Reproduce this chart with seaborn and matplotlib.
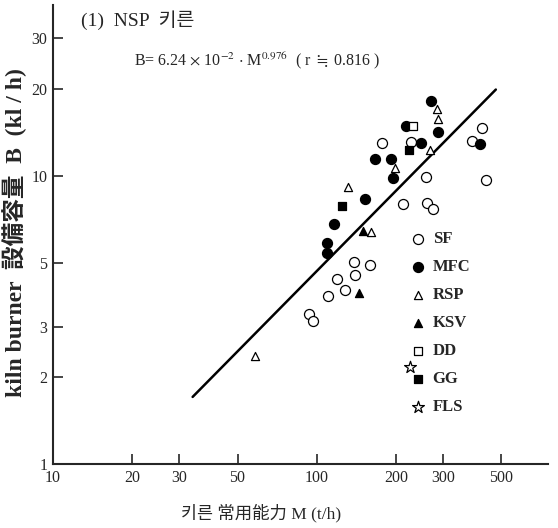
import matplotlib
matplotlib.use("Agg")
import matplotlib.pyplot as plt
import seaborn as sns
import pandas as pd

# ---- data ----
sf_M = [177, 228, 422, 386, 259, 435, 212, 261, 276, 138.5, 159, 119, 139, 128, 110, 93.3, 96.8]
sf_B = [13.0, 13.05, 14.6, 13.2, 9.9, 9.7, 7.97, 8.06, 7.65, 5.02, 4.92, 4.38, 4.52, 4.0, 3.82, 3.32, 3.14]
mfc_M = [270, 217, 287, 247, 414, 166, 190, 194, 152, 116.5, 109.6, 108.8]
mfc_B = [18.1, 14.9, 14.2, 13.0, 12.9, 11.46, 11.46, 9.84, 8.32, 6.81, 5.85, 5.39]
rsp_M = [284, 288, 268, 197.5, 131, 160, 58.4]
rsp_B = [17.1, 15.7, 12.3, 10.6, 9.14, 6.36, 2.38]
ksv_M = [149, 144]
ksv_B = [6.43, 3.91]
dd_M = [232]
dd_B = [14.9]
gg_M = [224, 124]
gg_B = [12.24, 7.88]
fls_M = [225]
fls_B = [2.18]

fit_M = [33.8, 476]
fit_B = [1.71, 19.9]

x_ticks = [10, 20, 30, 50, 100, 200, 300, 500]
y_ticks = [1, 2, 3, 5, 10, 20, 30]

sns.set_style("ticks")
plt.rcParams["font.family"] = ["Liberation Serif", "Noto Sans CJK KR", "DejaVu Sans"]
plt.rcParams["mathtext.fontset"] = "stix"

fig = plt.figure(figsize=(5.58, 5.28), dpi=100)
ax = fig.add_axes([0.095, 0.121, 0.887, 0.869])

ax.set_xscale("log")
ax.set_yscale("log")

series = [
    ("SF", sf_M, sf_B, "o", "white", 52),
    ("MFC", mfc_M, mfc_B, "o", "black", 52),
    ("RSP", rsp_M, rsp_B, "^", "white", 34),
    ("KSV", ksv_M, ksv_B, "^", "black", 34),
    ("DD", dd_M, dd_B, "s", "white", 34),
    ("GG", gg_M, gg_B, "s", "black", 40),
    ("FLS", fls_M, fls_B, "*", "white", 80),
]
for name, M, B, mk, fc, s in series:
    df = pd.DataFrame({"M": M, "B": B})
    sns.scatterplot(data=df, x="M", y="B", marker=mk, s=s, color=fc,
                    edgecolor="black", linewidth=0.9, ax=ax, zorder=3, legend=False)

handles = list(ax.collections[:len(series)])
labels = [s[0] for s in series]

line_df = pd.DataFrame({"M": fit_M, "B": fit_B})
sns.lineplot(data=line_df, x="M", y="B", color="black", lw=1.8, ax=ax, zorder=2, legend=False)

ax.set_xlim(10, 750)
ax.set_ylim(1, 39)
ax.set_xticks(x_ticks)
ax.set_xticklabels([str(v) for v in x_ticks])
ax.set_yticks(y_ticks)
ax.set_yticklabels([str(v) for v in y_ticks])
ax.minorticks_off()
ax.tick_params(direction="in", length=7, width=1.2, labelsize=11.5, pad=4)

sns.despine(ax=ax)
for sp in ["left", "bottom"]:
    ax.spines[sp].set_linewidth(1.5)

ax.set_xlabel("키른 常用能力 M (t/h)", fontsize=12.5)
ax.xaxis.set_label_coords(0.42, -0.086)
ax.set_ylabel("kiln burner  設備容量  B  (kl / h)", fontsize=17, fontweight="bold")
ax.yaxis.set_label_coords(-0.052, 0.505)

fig.text(0.145, 0.962, "(1)  NSP  키른", fontsize=14, va="center", ha="left")
fig.text(0.24, 0.886,
         r"B= 6.24 $\times$ 10$^{-2}$ $\cdot$ M$^{0.976}$  ( r $\fallingdotseq$ 0.816 )",
         fontsize=11.5, va="center", ha="left")

leg = ax.legend(handles, labels, loc="upper left", bbox_to_anchor=(0.708, 0.522), frameon=False,
                prop={"family": "Liberation Serif", "weight": "bold", "size": 12},
                handletextpad=0.35, labelspacing=0.72, handlelength=1.0, borderaxespad=0)

fig.savefig("out.png", dpi=100)
